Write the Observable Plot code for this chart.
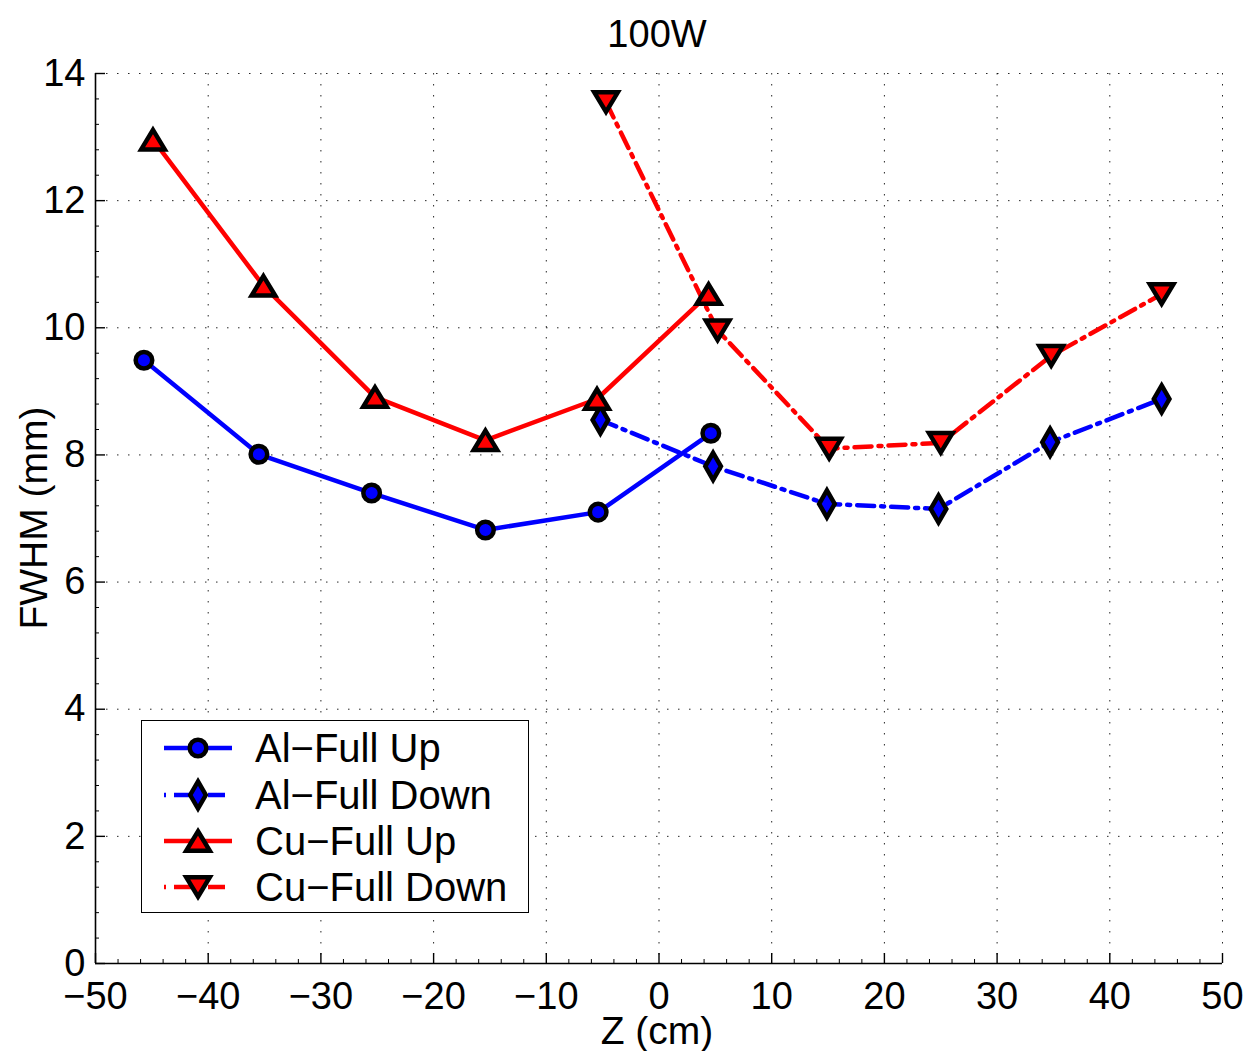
<!DOCTYPE html>
<html><head><meta charset="utf-8">
<script src="https://cdn.jsdelivr.net/npm/d3@7"></script>
<script src="https://cdn.jsdelivr.net/npm/@observablehq/plot@0.6"></script>
<style>
body{margin:0;background:#fff;font-family:"Liberation Sans",Arial,sans-serif;}
#wrap{position:relative;width:1248px;height:1051px;}
.lbl{position:absolute;color:#000;white-space:nowrap;line-height:0.8;}
</style></head><body><div id="wrap"></div>
<script>
// ---- data ----
const alUpZ      = [-45.7, -35.5, -25.5, -15.4, -5.4, 4.6];
const alUpFWHM   = [9.49, 8.01, 7.40, 6.82, 7.10, 8.34];
const alDownZ    = [-5.2, 4.8, 14.9, 24.8, 34.7, 44.6];
const alDownFWHM = [8.55, 7.82, 7.23, 7.15, 8.20, 8.88];
const cuUpZ      = [-44.9, -35.1, -25.2, -15.4, -5.5, 4.4];
const cuUpFWHM   = [12.96, 10.66, 8.91, 8.23, 8.88, 10.53];
const cuDownZ    = [-4.7, 5.2, 15.1, 25.0, 34.8, 44.6];
const cuDownFWHM = [13.55, 9.96, 8.10, 8.19, 9.56, 10.53];
const seriesNames = ["Al\u2212Full Up", "Al\u2212Full Down", "Cu\u2212Full Up", "Cu\u2212Full Down"];
const xTicks = [-50, -40, -30, -20, -10, 0, 10, 20, 30, 40, 50];
const yTicks = [0, 2, 4, 6, 8, 10, 12, 14];
const titleText = "100W";
const xLabel = "Z (cm)";
const yLabel = "FWHM (mm)";

// ---- symbols ----
const triUp = {draw(c, size){const s=Math.sqrt(size), w=0.70*s, h=0.58*s; c.moveTo(0,-h); c.lineTo(w,h); c.lineTo(-w,h); c.closePath();}};
const triDown = {draw(c, size){const s=Math.sqrt(size), w=0.70*s, h=0.58*s; c.moveTo(0,h); c.lineTo(w,-h); c.lineTo(-w,-h); c.closePath();}};
const dashDot = "17,7,3,7";

const series = [
  {name: seriesNames[0], z: alUpZ, f: alUpFWHM, color: "#0000ff", dash: null, symbol: "circle", r: 8.3},
  {name: seriesNames[1], z: alDownZ, f: alDownFWHM, color: "#0000ff", dash: dashDot, symbol: "diamond", r: 8.2},
  {name: seriesNames[2], z: cuUpZ, f: cuUpFWHM, color: "#ff0000", dash: null, symbol: triUp, r: 9.5},
  {name: seriesNames[3], z: cuDownZ, f: cuDownFWHM, color: "#ff0000", dash: dashDot, symbol: triDown, r: 9.5}
];
const tables = series.map(s => s.z.map((z, i) => ({z, f: s.f[i]})));

const xMinor = d3.range(-50, 50.01, 2).filter(v => !xTicks.includes(v));
const yMinor = d3.range(0, 14.01, 0.4).map(v => +v.toFixed(1)).filter(v => !yTicks.some(t => Math.abs(t - v) < 1e-6));

const marks = [
  Plot.gridX(xTicks, {stroke: "#000", strokeOpacity: 0.85, strokeWidth: 1, strokeDasharray: "1.5,9.5"}),
  Plot.gridY(yTicks, {stroke: "#000", strokeOpacity: 0.85, strokeWidth: 1, strokeDasharray: "1.5,9.5"}),
  Plot.ruleX([-50], {stroke: "#000", strokeWidth: 1.6}),
  Plot.ruleY([0], {stroke: "#000", strokeWidth: 1.6}),
  Plot.axisX(xMinor, {tickSize: -4, tickFormat: () => "", label: null, strokeWidth: 1}),
  Plot.axisY(yMinor, {tickSize: -4, tickFormat: () => "", label: null, strokeWidth: 1}),
  Plot.axisX(xTicks, {tickSize: -10, tickPadding: 29, fontSize: 38, label: null, strokeWidth: 1.4, tickFormat: d3.format("d")}),
  Plot.axisY(yTicks, {tickSize: -10, tickPadding: 20, fontSize: 38, label: null, strokeWidth: 1.4, tickFormat: d3.format("d")})
];
series.forEach((s, k) => {
  marks.push(Plot.line(tables[k], {x: "z", y: "f", stroke: s.color, strokeWidth: 4.5, strokeDasharray: s.dash || undefined}));
});
series.forEach((s, k) => {
  marks.push(Plot.dot(tables[k], {x: "z", y: "f", symbol: s.symbol, r: s.r, fill: s.color, stroke: "#000", strokeWidth: 4.5}));
});

const chart = Plot.plot({
  width: 1248, height: 1051,
  marginLeft: 95, marginRight: 26, marginTop: 73, marginBottom: 88,
  style: {fontFamily: "'Liberation Sans', Arial, sans-serif", color: "#000", background: "#fff"},
  x: {domain: [-50, 50]},
  y: {domain: [0, 14]},
  marks
});
const wrap = document.getElementById("wrap");
chart.style.position = "absolute"; chart.style.left = "0"; chart.style.top = "0";
wrap.appendChild(chart);

function addLabel(text, x, y, size, rotate) {
  const d = document.createElement("div");
  d.className = "lbl"; d.textContent = text;
  d.style.fontSize = size + "px";
  d.style.left = x + "px"; d.style.top = y + "px";
  d.style.transform = "translate(-50%,-50%)" + (rotate ? " rotate(-90deg)" : "");
  wrap.appendChild(d);
}
addLabel(titleText, 657, 34, 38, false);
addLabel(xLabel, 657, 1031, 39, false);
addLabel(yLabel, 34, 518, 39, true);

// ---- legend ----
const leg = document.createElement("div");
leg.style.cssText = "position:absolute;left:141px;top:720px;width:386px;height:191px;border:1.5px solid #000;background:#fff;";
wrap.appendChild(leg);
const rowY = [27, 74, 120, 166];
const svg = d3.select(leg).append("svg").attr("width", 386).attr("height", 191).style("position","absolute").style("left","0").style("top","0");
series.forEach((s, k) => {
  svg.append("line").attr("x1", 22).attr("x2", 90).attr("y1", rowY[k]).attr("y2", rowY[k])
    .attr("stroke", s.color).attr("stroke-width", 4.5).attr("stroke-dasharray", s.dash ? "2,8,17,7,3,7,17,7" : null);
  const type = s.symbol === "circle" ? d3.symbolCircle : s.symbol === "diamond" ? d3.symbolDiamond : s.symbol;
  svg.append("path").attr("transform", `translate(56,${rowY[k]})`)
    .attr("d", d3.symbol(type, Math.PI * s.r * s.r)())
    .attr("fill", s.color).attr("stroke", "#000").attr("stroke-width", 4.5);
  svg.append("text").attr("x", 113).attr("y", rowY[k]).attr("dy", "0.36em")
    .attr("font-size", 40).attr("font-family", "'Liberation Sans', Arial, sans-serif").text(s.name);
});
</script></body></html>
